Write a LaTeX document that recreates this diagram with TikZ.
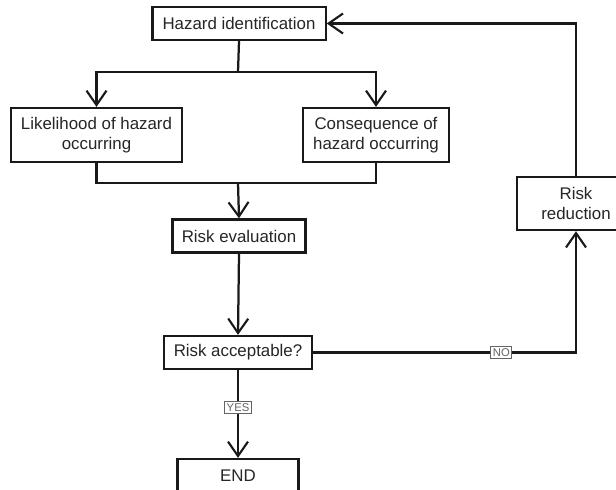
\documentclass[tikz,border=0pt]{standalone}
\usepackage{fontspec}
\setmainfont{Liberation Sans}
\usepackage{xcolor}
\usetikzlibrary{arrows.meta,positioning}
\definecolor{linegray}{RGB}{25,25,25}
\definecolor{taggray}{RGB}{100,100,100}

\begin{document}
\begin{tikzpicture}[
        x=0.025cm, y=-0.025cm,
        stepbox/.style={
            rectangle,
            minimum height=0.825cm,
            text centered,
            draw=linegray,
            line width=1.6pt,
            fill=white,
            text=black!85,
            font=\fontsize{12}{14}\selectfont,
            align=center,
            inner sep=2pt
        },
        tag/.style={
            rectangle,
            draw=taggray,
            line width=0.7pt,
            fill=white,
            text=taggray,
            font=\fontsize{8}{9}\selectfont,
            inner sep=1.5pt
        },
        line/.style={
            line width=1.6pt,
            color=linegray
        },
        arrow/.style={
            line,
            -{Straight Barb[length=3.6mm,width=5mm,line width=1.5pt]}
        }
    ]
    \useasboundingbox (0,0) rectangle (616,490);
    \clip (0,0) rectangle (616,490);

    % Hazard identification (top)
    \node[stepbox, minimum width=4.33cm] (haz) at (239,23.5) {Hazard identification};

    % Likelihood and consequence (second row)
    \node[stepbox, minimum width=4.28cm, minimum height=1.35cm] (like) at (96.5,135) {Likelihood of hazard\\occurring};
    \node[stepbox, minimum width=3.65cm, minimum height=1.35cm] (cons) at (376,135) {Consequence of\\hazard occurring};

    % Risk evaluation and decision (centre column)
    \node[stepbox, minimum width=3.33cm] (eval) at (239,236) {Risk evaluation};
    \node[stepbox, minimum width=3.7cm] (acc) at (238,352.5) {Risk acceptable?};
    \node[stepbox, minimum width=3.03cm] (end) at (238,475.5) {END};

    % Risk reduction (right, cut by the edge)
    \node[stepbox, minimum width=2.95cm, minimum height=1.33cm] (red) at (576,203.5) {Risk\\reduction};

    % Split and join points
    \coordinate (split) at (238,72);
    \coordinate (join) at (238,183);

    % Connectors
    \draw[line] (haz.south) -- (split);
    \draw[arrow] (split) -| (like.north);
    \draw[arrow] (split) -| (cons.north);
    \draw[line] (like.south) |- (cons.south |- join) -- (cons.south);
    \draw[arrow] (join) -- (eval.north);
    \draw[arrow] (eval.south) -- (acc.north);
    \draw[arrow] (acc.south) -- node[tag, pos=0.43] (yes) {YES} (end.north);
    \draw[arrow] (acc.east) -| node[tag, pos=0.358] (no) {NO} (red.south);
    \draw[arrow] (red.north) |- (haz.east);

\end{tikzpicture}
\end{document}
